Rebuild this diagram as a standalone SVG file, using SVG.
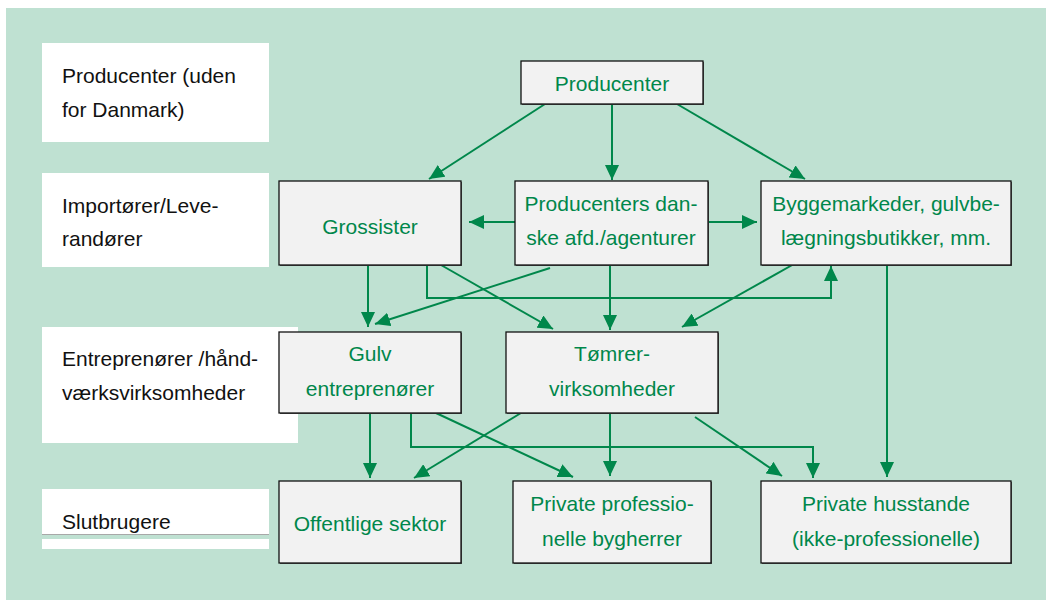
<svg xmlns="http://www.w3.org/2000/svg" width="1046" height="600" viewBox="0 0 1046 600">
<defs>
<style>
.lbl{font-family:"Liberation Sans",Arial,sans-serif;font-size:21px;fill:#111}
.nt{font-family:"Liberation Sans",Arial,sans-serif;font-size:21px;fill:#00874b;text-anchor:middle}
.box{fill:#f2f2f2;stroke:#111;stroke-width:1.3}
.sh{fill:#555}
.cell{fill:#fff}
.ln{fill:none;stroke:#00874b;stroke-width:2;marker-end:url(#ah)}
</style>
<marker id="ah" markerUnits="userSpaceOnUse" markerWidth="16" markerHeight="14" refX="15" refY="7" orient="auto" viewBox="0 0 16 14">
<path d="M0,0 L15,7 L0,14 z" fill="#00874b"/>
</marker>
</defs>
<rect x="6" y="8" width="1040" height="592" fill="#bfe1d2"/>

<g id="label-producenter-uden">
<rect class="cell" x="42" y="43" width="227" height="99"/>
<text class="lbl" x="62" y="83">Producenter (uden</text>
<text class="lbl" x="62" y="117">for Danmark)</text>
</g>
<g id="label-importoerer">
<rect class="cell" x="42" y="173" width="227" height="94"/>
<text class="lbl" x="62" y="213">Importører/Leve-</text>
<text class="lbl" x="62" y="246">randører</text>
</g>
<g id="label-entreprenoerer">
<rect class="cell" x="42" y="327" width="256" height="116"/>
<text class="lbl" x="62" y="366">Entreprenører /hånd-</text>
<text class="lbl" x="62" y="400">værksvirksomheder</text>
</g>
<g id="label-slutbrugere">
<rect class="cell" x="42" y="489" width="227" height="60"/>
<rect x="42" y="534" width="227" height="5" fill="#bfe1d2"/>
<line x1="42" y1="534.5" x2="269" y2="534.5" stroke="#a8a8a8" stroke-width="1"/>
<text class="lbl" x="62" y="529">Slutbrugere</text>
</g>

<g id="connectors">
<line class="ln" x1="545" y1="104" x2="429" y2="179"/>
<line class="ln" x1="612" y1="104" x2="612" y2="180"/>
<line class="ln" x1="677" y1="104" x2="805" y2="179"/>
<line class="ln" x1="515" y1="222" x2="469" y2="222"/>
<line class="ln" x1="709" y1="222" x2="757" y2="222"/>
<line class="ln" x1="368" y1="265" x2="368" y2="327"/>
<polyline class="ln" points="427,265 427,298 831,298 831,266"/>
<line class="ln" x1="441" y1="265" x2="553" y2="329"/>
<line class="ln" x1="550" y1="268" x2="375" y2="324"/>
<line class="ln" x1="610" y1="265" x2="610" y2="330"/>
<line class="ln" x1="794" y1="264" x2="682" y2="327"/>
<line class="ln" x1="887" y1="265" x2="887" y2="477"/>
<line class="ln" x1="370" y1="413" x2="370" y2="478"/>
<polyline class="ln" points="411,413 411,447 813,447 813,478"/>
<line class="ln" x1="436" y1="413" x2="573" y2="477"/>
<line class="ln" x1="521" y1="413" x2="414" y2="478"/>
<line class="ln" x1="610" y1="413" x2="610" y2="476"/>
<line class="ln" x1="695" y1="417" x2="782" y2="476"/>
</g>

<g id="producenter">
<rect class="sh" x="522" y="62" width="182" height="43"/>
<rect class="box" x="521" y="61" width="182" height="43"/>
<text class="nt" x="612" y="91">Producenter</text>
</g>
<g id="grossister">
<rect class="sh" x="280" y="182" width="182" height="84"/>
<rect class="box" x="279" y="181" width="182" height="84"/>
<text class="nt" x="370" y="234">Grossister</text>
</g>
<g id="producenters-danske">
<rect class="sh" x="516" y="182" width="193" height="84"/>
<rect class="box" x="515" y="181" width="193" height="84"/>
<text class="nt" x="611" y="211">Producenters dan-</text>
<text class="nt" x="611" y="245">ske afd./agenturer</text>
</g>
<g id="byggemarkeder">
<rect class="sh" x="762" y="182" width="250" height="84"/>
<rect class="box" x="761" y="181" width="250" height="84"/>
<text class="nt" x="886" y="211">Byggemarkeder, gulvbe-</text>
<text class="nt" x="886" y="245">lægningsbutikker, mm.</text>
</g>
<g id="gulv">
<rect class="sh" x="280" y="333" width="182" height="81"/>
<rect class="box" x="279" y="332" width="182" height="81"/>
<text class="nt" x="370" y="361">Gulv</text>
<text class="nt" x="370" y="396">entreprenører</text>
</g>
<g id="toemrer">
<rect class="sh" x="507" y="333" width="212" height="81"/>
<rect class="box" x="506" y="332" width="212" height="81"/>
<text class="nt" x="612" y="361">Tømrer-</text>
<text class="nt" x="612" y="396">virksomheder</text>
</g>
<g id="offentlige">
<rect class="sh" x="280" y="482" width="182" height="82"/>
<rect class="box" x="279" y="481" width="182" height="82"/>
<text class="nt" x="370" y="531">Offentlige sektor</text>
</g>
<g id="private-professionelle">
<rect class="sh" x="514" y="482" width="198" height="82"/>
<rect class="box" x="513" y="481" width="198" height="82"/>
<text class="nt" x="612" y="511">Private professio-</text>
<text class="nt" x="612" y="546">nelle bygherrer</text>
</g>
<g id="private-husstande">
<rect class="sh" x="762" y="482" width="250" height="82"/>
<rect class="box" x="761" y="481" width="250" height="82"/>
<text class="nt" x="886" y="511">Private husstande</text>
<text class="nt" x="886" y="546">(ikke-professionelle)</text>
</g>
</svg>
